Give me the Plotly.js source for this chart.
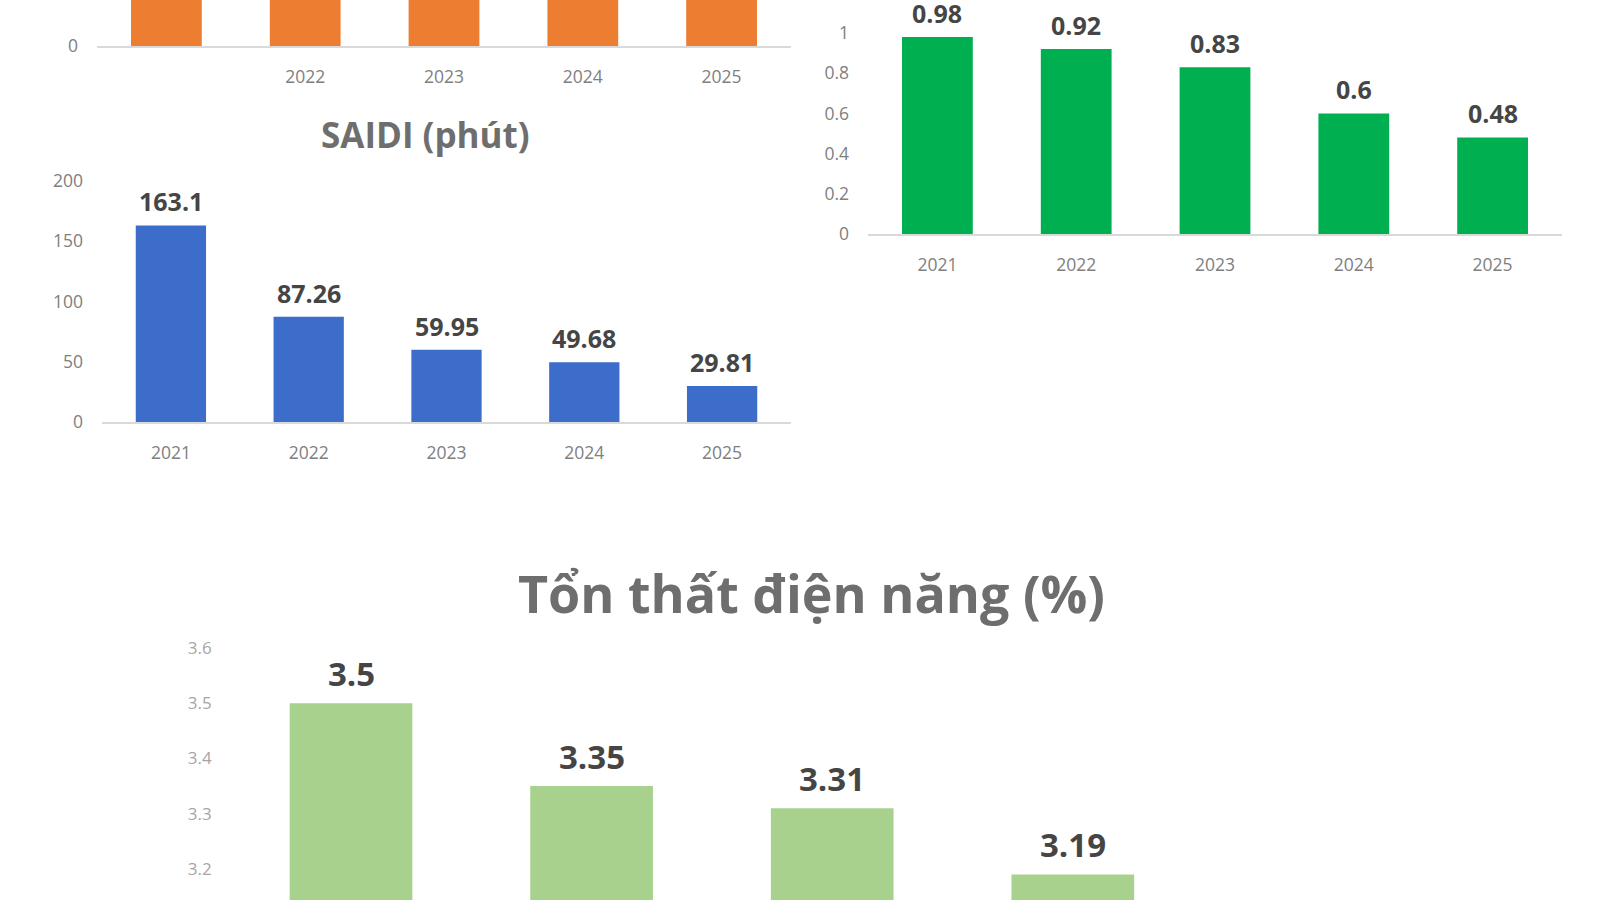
<!DOCTYPE html>
<html>
<head>
<meta charset="utf-8">
<script src="https://cdn.plot.ly/plotly-3.0.1.min.js"></script>
<style>
html,body{margin:0;padding:0;background:#fff;overflow:hidden;width:1600px;height:900px;}
#wrap{width:1600px;height:900px;overflow:hidden;position:relative;}
#chart{width:1600px;height:1050px;}
</style>
</head>
<body>
<div id="wrap"><div id="chart"></div></div>
<script>
// ---- data ----
const years = ['2021', '2022', '2023', '2024', '2025'];

// top-left chart (cut off at the top of the picture; bars run past the visible area)
const orangeValues = [1.3, 1.3, 1.3, 1.3, 1.3];
const orangeTickLabels = ['', '2022', '2023', '2024', '2025'];

const saidiTitle = 'SAIDI (phút)';
const saidiValues = [163.1, 87.26, 59.95, 49.68, 29.81];
const saidiTicks = [0, 50, 100, 150, 200];

const greenValues = [0.98, 0.92, 0.83, 0.6, 0.48];
const greenTicks = [0, 0.2, 0.4, 0.6, 0.8, 1, 1.2];
const greenTickLabels = ['0', '0.2', '0.4', '0.6', '0.8', '1', '1.2'];

const lossTitle = 'Tổn thất điện năng (%)';
const lossValues = [3.5, 3.35, 3.31, 3.19, 3.07];
const lossTicks = [3.2, 3.3, 3.4, 3.5, 3.6];
const lossTickLabels = ['3.2', '3.3', '3.4', '3.5', '3.6'];

// ---- styles ----
const H = 1050;
const py = px => 1 - px / H;
const W = 1600;
const pxX = px => px / W;

const tickFont = {family: 'Open Sans, sans-serif', size: 17.5, color: '#808080'};
const labelFont = {family: 'Open Sans, sans-serif', size: 25, color: '#454545', weight: 700};

const traces = [
  {type: 'bar', x: years, y: orangeValues, xaxis: 'x', yaxis: 'y',
   marker: {color: '#ed7d31'}, hoverinfo: 'skip'},
  {type: 'bar', x: years, y: saidiValues, xaxis: 'x2', yaxis: 'y2',
   marker: {color: '#3d6dcb'}, hoverinfo: 'skip'},
  {type: 'bar', x: years, y: greenValues, xaxis: 'x3', yaxis: 'y3',
   marker: {color: '#00b050'}, hoverinfo: 'skip'},
  {type: 'bar', x: years, y: lossValues, xaxis: 'x4', yaxis: 'y4',
   marker: {color: '#a9d18e'}, hoverinfo: 'skip'}
];

function xax(d, anchor, ticktext) {
  return {domain: d, anchor: anchor, type: 'category', showgrid: false, zeroline: false,
    range: [-0.5, years.length - 0.5],
    showline: true, linecolor: '#d9d9d9', linewidth: 1.5, ticks: '',
    tickfont: tickFont, ticklabelstandoff: 14, fixedrange: true,
    tickmode: 'array', tickvals: years, ticktext: ticktext || years};
}
function yax(d, anchor, range, tickvals, ticktext, font) {
  return {domain: d, anchor: anchor, range: range, showgrid: false, zeroline: false,
    showline: false, ticks: '', tickfont: font || tickFont, ticklabelstandoff: 18,
    fixedrange: true, tickmode: 'array', tickvals: tickvals,
    ticktext: ticktext || tickvals.map(String)};
}

const annotations = [];
function addLabels(values, xref, yref, shift, font) {
  values.forEach((v, i) => {
    // category axis: position given by the category index of years[i]
    annotations.push({xref: xref, yref: yref, x: i, y: v, text: String(v),
      showarrow: false, yanchor: 'middle', yshift: shift, font: font});
  });
}
addLabels(saidiValues, 'x2', 'y2', 24, labelFont);
addLabels(greenValues, 'x3', 'y3', 24.5, labelFont);
addLabels(lossValues, 'x4', 'y4', 30,
  {family: 'Open Sans, sans-serif', size: 33, color: '#454545', weight: 700});

annotations.push({xref: 'paper', yref: 'paper', x: pxX(425), y: py(134),
  text: '<b>' + saidiTitle + '</b>', showarrow: false, xanchor: 'center', yanchor: 'middle',
  font: {family: 'Open Sans, sans-serif', size: 35, color: '#6e6e6e'}});
annotations.push({xref: 'paper', yref: 'paper', x: pxX(812), y: py(592),
  text: '<b>' + lossTitle + '</b>', showarrow: false, xanchor: 'center', yanchor: 'middle',
  font: {family: 'Open Sans, sans-serif', size: 52, color: '#6e6e6e'}});

const layout = {
  width: W, height: H,
  margin: {l: 0, r: 0, t: 0, b: 0, pad: 0},
  paper_bgcolor: '#ffffff', plot_bgcolor: '#ffffff',
  showlegend: false, bargap: 0.49,
  font: {family: 'Open Sans, sans-serif'},
  xaxis: xax([pxX(97), pxX(791)], 'y', orangeTickLabels),
  yaxis: yax([py(46), 1], 'x', [0, 1], [0]),
  xaxis2: xax([pxX(102), pxX(791)], 'y2'),
  yaxis2: yax([py(422), py(181)], 'x2', [0, 200], saidiTicks),
  xaxis3: xax([pxX(868), pxX(1562)], 'y3'),
  yaxis3: yax([py(234), 1], 'x3', [0, 234 / 201], greenTicks, greenTickLabels),
  xaxis4: Object.assign(xax([pxX(230.7), pxX(1433.7)], 'y4'), {showline: false}),
  yaxis4: yax([py(979.5), py(648)], 'x4', [3.0, 3.6], lossTicks, lossTickLabels,
    {family: 'Open Sans, sans-serif', size: 17, color: '#a6a6a6'}),
  annotations: annotations
};

Plotly.newPlot('chart', traces, layout, {displayModeBar: false, staticPlot: true});
</script>
</body>
</html>
